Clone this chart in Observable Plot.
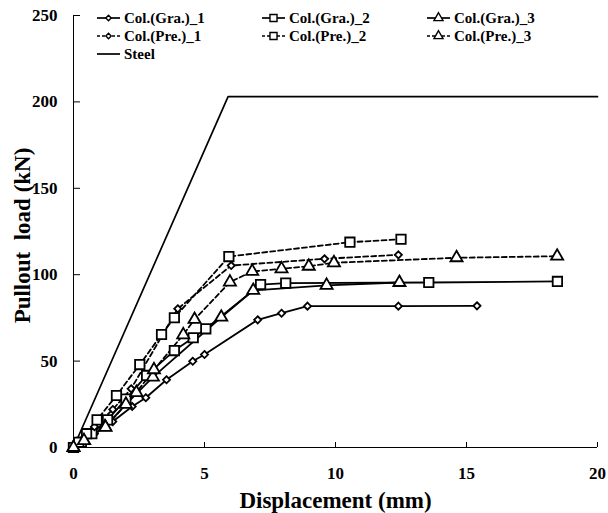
<!DOCTYPE html>
<html>
<head>
<meta charset="utf-8">
<script src="https://cdn.jsdelivr.net/npm/d3@7"></script>
<script src="https://cdn.jsdelivr.net/npm/@observablehq/plot@0.6"></script>
<style>
  html, body { margin: 0; padding: 0; background: #fff; }
  #wrap { position: relative; width: 608px; height: 513px; }
  #legend { position: absolute; left: 0; top: 0; }
  text { font-family: "Liberation Serif", "Times New Roman", serif; }
</style>
</head>
<body>
<div id="wrap"></div>
<script>
// ---- data ----
const seriesNames = ["Col.(Gra.)_1", "Col.(Gra.)_2", "Col.(Gra.)_3", "Col.(Pre.)_1", "Col.(Pre.)_2", "Col.(Pre.)_3", "Steel"];

const gra1X = [0, 0.3, 0.8, 1.5, 2.24, 2.76, 3.55, 4.55, 5.0, 7.03, 7.94, 8.93, 12.4, 15.4];
const gra1Y = [0, 3, 8, 15, 23.7, 28.8, 39.2, 49.9, 53.8, 73.9, 77.7, 81.8, 81.8, 82.0];

const gra2X = [0, 0.3, 0.7, 1.3, 2.0, 2.79, 3.85, 4.57, 5.05, 7.14, 8.1, 13.56, 18.47];
const gra2Y = [0, 3, 8, 16, 28, 41.7, 56.1, 63.5, 68.7, 94.3, 95.1, 95.5, 96.1];

const gra3X = [0, 0.4, 1.2, 2.0, 3.03, 5.64, 6.86, 9.66, 12.44];
const gra3Y = [0, 4, 12, 25, 40.7, 75.4, 90.9, 93.8, 95.5];

const pre1X = [0, 0.3, 0.8, 1.5, 2.2, 3.98, 6.02, 9.58, 12.4];
const pre1Y = [0, 4, 12, 22, 34, 80.3, 105.3, 109.2, 111.5];

const pre2X = [0, 0.2, 0.5, 0.9, 1.64, 2.53, 3.36, 3.85, 5.93, 10.55, 12.5];
const pre2Y = [0, 3, 8, 16, 30.1, 48.0, 65.4, 75.1, 110.5, 118.8, 120.5];

const pre3X = [0, 0.4, 1.22, 2.4, 3.07, 4.19, 4.62, 5.97, 6.82, 7.94, 8.98, 9.94, 14.62, 18.46];
const pre3Y = [0, 4, 11.7, 31.8, 45.0, 65.2, 74.1, 95.7, 101.9, 103.4, 104.9, 106.9, 109.8, 110.7];

const steelX = [0, 5.9, 20];
const steelY = [0, 203, 203];

const xTicks = [0, 5, 10, 15, 20];
const yTicks = [0, 50, 100, 150, 200, 250];

// ---- styles per series ----
const symbolOf = {"Col.(Gra.)_1": "diamond2", "Col.(Gra.)_2": "square", "Col.(Gra.)_3": "triangle",
                  "Col.(Pre.)_1": "diamond2", "Col.(Pre.)_2": "square", "Col.(Pre.)_3": "triangle"};
const rOf = {"diamond2": 3.2, "square": 5.3, "triangle": 4.5};
const dashOf = name => name.includes("Pre.") ? "5,3" : null;

const raw = [
  [seriesNames[0], gra1X, gra1Y], [seriesNames[1], gra2X, gra2Y], [seriesNames[2], gra3X, gra3Y],
  [seriesNames[3], pre1X, pre1Y], [seriesNames[4], pre2X, pre2Y], [seriesNames[5], pre3X, pre3Y]
];
const rows = raw.flatMap(([s, xs, ys]) => xs.map((x, i) => ({series: s, x, y: ys[i]})));
const steel = steelX.map((x, i) => ({x, y: steelY[i]}));

const W = 608, H = 513, mL = 73, mR = 11, mT = 15, mB = 66;
const plotH = H - mT - mB, plotW = W - mL - mR;
const font = '"Liberation Serif", "Times New Roman", serif';

const marks = [
  Plot.ruleX([0], {strokeWidth: 1}),
  Plot.ruleY([0], {strokeWidth: 1}),
  Plot.tickX(xTicks, {x: d => d, insetTop: plotH - 5, strokeWidth: 1}),
  Plot.tickY(yTicks, {y: d => d, insetRight: plotW - 7, strokeWidth: 1}),
  Plot.axisX(xTicks, {tickSize: 0, tickPadding: 19, fontSize: 17, fontWeight: "bold", label: null}),
  Plot.axisY(yTicks, {tickSize: 0, tickPadding: 16, fontSize: 17, fontWeight: "bold", label: null}),
  Plot.line(steel, {x: "x", y: "y", stroke: "black", strokeWidth: 1.7})
];
for (const [s] of raw) {
  const d = rows.filter(r => r.series === s);
  marks.push(Plot.line(d, {x: "x", y: "y", stroke: "black", strokeWidth: 1.8,
    strokeDasharray: dashOf(s)}));
}
for (const [s] of raw) {
  const d = rows.filter(r => r.series === s);
  const sym = symbolOf[s];
  marks.push(Plot.dot(d, {x: "x", y: "y", symbol: () => sym, r: rOf[sym], fill: "white",
    stroke: "black", strokeWidth: 1.8}));
}
marks.push(Plot.text(["Displacement (mm)"], {frameAnchor: "bottom", lineAnchor: "middle", dy: 53, fontSize: 23, fontWeight: "bold"}));
marks.push(Plot.text(["Pullout  load (kN)"], {frameAnchor: "left", textAnchor: "middle", dx: -51, dy: 4, rotate: -90, fontSize: 23, fontWeight: "bold"}));

const chart = Plot.plot({
  width: W, height: H,
  marginLeft: mL, marginRight: mR, marginTop: mT, marginBottom: mB,
  x: {domain: [0, 20], axis: null},
  y: {domain: [0, 250], axis: null},
  symbol: {type: "identity"},
  style: {fontFamily: font, color: "black", background: "white", overflow: "visible"},
  marks
});
chart.querySelectorAll("text").forEach(t => t.style.whiteSpace = "pre");
document.getElementById("wrap").appendChild(chart);

// ---- legend (inside the plot, top-left) ----
const leg = d3.select("#wrap").append("svg").attr("id", "legend").attr("width", W).attr("height", 80);
const symGen = {"diamond2": d3.symbolDiamond2, "square": d3.symbolSquare, "triangle": d3.symbolTriangle};
const colX = [97, 262, 427];
const rowY = [18, 36, 54];
const legendItems = seriesNames.map((s, i) => {
  if (s === "Steel") return {s, cx: colX[0], cy: rowY[2]};
  return {s, cx: colX[i % 3], cy: rowY[Math.floor(i / 3)]};
});
for (const it of legendItems) {
  const g = leg.append("g");
  g.append("line").attr("x1", it.cx).attr("x2", it.cx + 23).attr("y1", it.cy).attr("y2", it.cy)
    .attr("stroke", "black").attr("stroke-width", 1.7)
    .attr("stroke-dasharray", it.s.includes("Pre.") ? "3,2" : null);
  if (symbolOf[it.s]) {
    const sym = symbolOf[it.s];
    const r = rOf[sym] * 0.75;
    g.append("path").attr("d", d3.symbol(symGen[sym], Math.PI * r * r)())
      .attr("transform", `translate(${it.cx + 11.5},${it.cy})`)
      .attr("fill", "white").attr("stroke", "black").attr("stroke-width", 1.4);
  }
  g.append("text").attr("x", it.cx + 27).attr("y", it.cy).attr("dy", "0.35em")
    .attr("font-size", 15).attr("font-weight", "bold").attr("fill", "black")
    .text(it.s);
}
</script>
</body>
</html>
